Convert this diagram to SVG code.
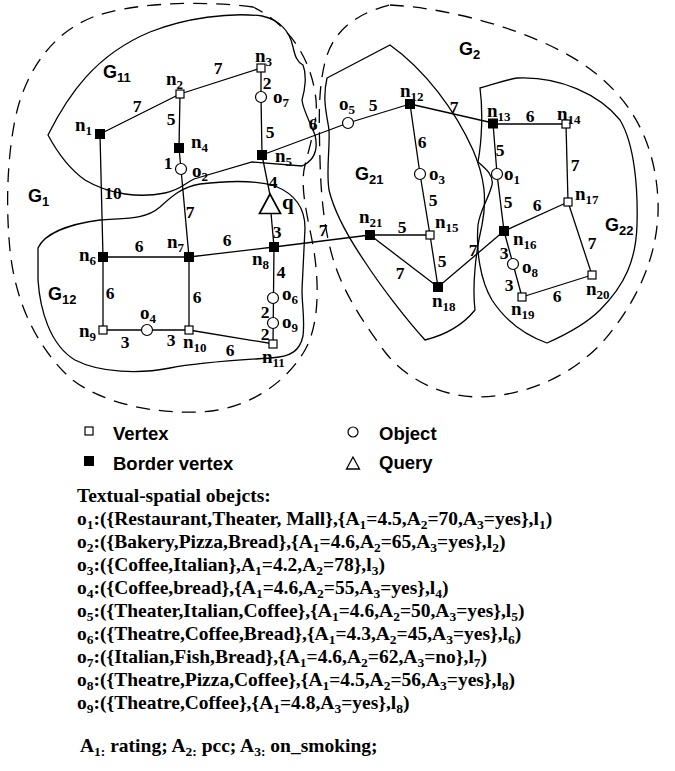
<svg xmlns="http://www.w3.org/2000/svg" width="675" height="771" viewBox="0 0 675 771">
<style>
.bg{fill:#fff}
.reg{fill:none;stroke:#000;stroke-width:1.3}
.dash{fill:none;stroke:#000;stroke-width:1.3;stroke-dasharray:14 9}
.e{stroke:#000;stroke-width:1.3;fill:none}
.v{fill:#fff;stroke:#000;stroke-width:1.2}
.b{fill:#000;stroke:#000;stroke-width:1}
.o{fill:#fff;stroke:#000;stroke-width:1.2}
.nl{font-family:"Liberation Serif",serif;font-weight:bold;font-size:19px;fill:#000}
.w{font-family:"Liberation Serif",serif;font-weight:bold;font-size:17.5px;text-anchor:middle;fill:#000}
.g{font-family:"Liberation Sans",sans-serif;font-weight:bold;font-size:18px;fill:#000}
.lg{font-family:"Liberation Sans",sans-serif;font-weight:bold;font-size:18.5px;fill:#000}
.t{font-family:"Liberation Serif",serif;font-weight:bold;font-size:19.5px;fill:#000}
.s{font-size:13px}
.ts{font-size:13.5px}
</style>
<rect class="bg" x="0" y="0" width="675" height="771"/>

<g id="regions">
  <path id="G1" class="dash" d="M253,7 C200,0 130,3 93,17 C55,32 30,65 18,107 C8,145 5,200 10,250 C15,300 35,345 70,378 C100,402 150,414 200,412 C245,410 285,385 305,350 C322,320 318,270 312,240 C306,210 300,185 305,165 C310,145 318,120 316,100 C312,60 290,25 253,7 Z"/>
  <path id="G2" class="dash" d="M390,5 C450,8 530,30 580,62 C630,95 655,140 658,200 C660,250 640,300 600,345 C570,375 530,395 480,397 C440,397 405,378 385,352 C365,325 345,295 335,265 C325,235 321,200 320,160 C319,120 318,90 325,62 C332,35 350,15 390,5 Z"/>
  <path id="G11" class="reg" d="M48,135 C68,95 95,55 150,32 C185,18 230,12 262,16 C280,20 290,32 293,47 C295,56 297,62 303,65 C307,75 305,90 302,100 C303,110 310,122 315,135 C318,148 315,160 302,166 L252,162 L194,179 C184,184 180,190 165,193 C140,198 110,195 85,180 C68,168 56,150 48,135 Z"/>
  <path id="G12" class="reg" d="M38,248 C45,233 70,224 100,220 C125,218 145,220 160,207 C172,196 182,187 200,184 C225,181 255,180 275,186 C295,194 305,208 305,228 L302,290 C302,305 305,320 303,336 C300,350 292,357 270,358 C240,360 200,362 170,368 C140,374 100,373 75,360 C50,345 40,310 38,280 Z"/>
  <path id="G21" class="reg" d="M327,78 L390,45 C425,70 455,110 473,150 C485,178 487,200 482,225 C476,250 472,285 475,310 C462,326 445,335 425,340 C405,318 380,285 365,262 C350,240 335,215 329,190 C326,170 330,150 329,130 C327,115 322,100 327,78 Z"/>
  <path id="G22" class="reg" d="M480,88 C495,84 505,80 517,78 C560,76 600,95 620,120 C635,145 638,190 637,225 C636,260 625,285 600,310 C585,325 565,335 547,343 C525,335 505,320 492,300 C480,280 476,250 478,225 C480,210 488,200 492,185 C494,175 485,168 478,162 C482,140 483,110 480,88 Z"/>
  <text class="g" x="28" y="202">G<tspan class="s" dy="4">1</tspan></text>
  <text class="g" x="103" y="78">G<tspan class="s" dy="4">11</tspan></text>
  <text class="g" x="48" y="300">G<tspan class="s" dy="4">12</tspan></text>
  <text class="g" x="459" y="55">G<tspan class="s" dy="4">2</tspan></text>
  <text class="g" x="355" y="180">G<tspan class="s" dy="4">21</tspan></text>
  <text class="g" x="605" y="231">G<tspan class="s" dy="4">22</tspan></text>
</g>

<g id="connectors">
  <line class="e" x1="100" y1="134" x2="180" y2="94"/>
  <line class="e" x1="180" y1="94" x2="261" y2="68"/>
  <line class="e" x1="180" y1="94" x2="179" y2="148"/>
  <line class="e" x1="179" y1="148" x2="181" y2="169"/>
  <line class="e" x1="181" y1="169" x2="189" y2="257"/>
  <line class="e" x1="261" y1="68" x2="261" y2="97"/>
  <line class="e" x1="261" y1="97" x2="262" y2="155"/>
  <line class="e" x1="262" y1="155" x2="348" y2="123"/>
  <line class="e" x1="348" y1="123" x2="410" y2="104"/>
  <line class="e" x1="410" y1="104" x2="493" y2="123"/>
  <line class="e" x1="493" y1="124" x2="566" y2="124"/>
  <line class="e" x1="410" y1="104" x2="420" y2="174"/>
  <line class="e" x1="420" y1="174" x2="430" y2="235"/>
  <line class="e" x1="493" y1="123" x2="497" y2="174"/>
  <line class="e" x1="497" y1="174" x2="504" y2="231"/>
  <line class="e" x1="566" y1="124" x2="568" y2="202"/>
  <line class="e" x1="504" y1="231" x2="568" y2="202"/>
  <line class="e" x1="568" y1="202" x2="592" y2="275"/>
  <line class="e" x1="504" y1="231" x2="513" y2="264"/>
  <line class="e" x1="513" y1="264" x2="522" y2="297"/>
  <line class="e" x1="522" y1="297" x2="592" y2="275"/>
  <line class="e" x1="370" y1="235" x2="430" y2="235"/>
  <line class="e" x1="370" y1="235" x2="438" y2="287"/>
  <line class="e" x1="430" y1="235" x2="438" y2="287"/>
  <line class="e" x1="438" y1="287" x2="504" y2="231"/>
  <line class="e" x1="274" y1="247" x2="370" y2="235"/>
  <line class="e" x1="262" y1="155" x2="270" y2="195"/>
  <line class="e" x1="271" y1="213" x2="274" y2="247"/>
  <line class="e" x1="189" y1="257" x2="274" y2="247"/>
  <line class="e" x1="103" y1="257" x2="189" y2="257"/>
  <line class="e" x1="100" y1="134" x2="103" y2="257"/>
  <line class="e" x1="103" y1="257" x2="103" y2="330"/>
  <line class="e" x1="189" y1="257" x2="189" y2="330"/>
  <line class="e" x1="103" y1="330" x2="189" y2="330"/>
  <line class="e" x1="189" y1="330" x2="274" y2="344"/>
  <line class="e" x1="274" y1="247" x2="273" y2="344"/>
  <g class="w">
    <text x="137" y="112">7</text>
    <text x="218" y="74">7</text>
    <text x="171" y="125">5</text>
    <text x="168" y="169">1</text>
    <text x="267" y="89">2</text>
    <text x="270" y="138">5</text>
    <text x="313" y="130">6</text>
    <text x="273" y="188">4</text>
    <text x="113" y="199">10</text>
    <text x="190" y="218">7</text>
    <text x="139" y="252">6</text>
    <text x="227" y="246">6</text>
    <text x="277" y="238">3</text>
    <text x="323" y="236">7</text>
    <text x="110" y="299">6</text>
    <text x="197" y="303">6</text>
    <text x="125" y="348">3</text>
    <text x="171" y="346">3</text>
    <text x="230" y="356">6</text>
    <text x="281" y="278">4</text>
    <text x="265" y="318">2</text>
    <text x="265" y="340">2</text>
    <text x="373" y="111">5</text>
    <text x="454" y="113">7</text>
    <text x="422" y="148">6</text>
    <text x="530" y="122">6</text>
    <text x="500" y="156">5</text>
    <text x="575" y="171">7</text>
    <text x="433" y="206">5</text>
    <text x="508" y="208">5</text>
    <text x="537" y="211">6</text>
    <text x="402" y="233">5</text>
    <text x="400" y="279">7</text>
    <text x="442" y="267">5</text>
    <text x="473" y="256">7</text>
    <text x="504" y="259">3</text>
    <text x="509" y="291">3</text>
    <text x="557" y="302">6</text>
    <text x="592" y="249">7</text>
  </g>
</g>

<g id="n1"><rect class="b" x="95.5" y="129.5" width="9" height="9"/><text class="nl" x="75" y="131">n<tspan class="s" dy="4">1</tspan></text></g>
<g id="n2"><rect class="v" x="176" y="90" width="8" height="8"/><text class="nl" x="166" y="85">n<tspan class="s" dy="4">2</tspan></text></g>
<g id="n3"><rect class="v" x="257" y="64" width="8" height="8"/><text class="nl" x="255" y="62">n<tspan class="s" dy="4">3</tspan></text></g>
<g id="n4"><rect class="b" x="174.5" y="143.5" width="9" height="9"/><text class="nl" x="191" y="148">n<tspan class="s" dy="4">4</tspan></text></g>
<g id="n5"><rect class="b" x="257.5" y="150.5" width="9" height="9"/><text class="nl" x="275" y="162">n<tspan class="s" dy="4">5</tspan></text></g>
<g id="n6"><rect class="b" x="98.5" y="252.5" width="9" height="9"/><text class="nl" x="79" y="261">n<tspan class="s" dy="4">6</tspan></text></g>
<g id="n7"><rect class="b" x="184.5" y="252.5" width="9" height="9"/><text class="nl" x="167" y="248">n<tspan class="s" dy="4">7</tspan></text></g>
<g id="n8"><rect class="b" x="269.5" y="242.5" width="9" height="9"/><text class="nl" x="252" y="265">n<tspan class="s" dy="4">8</tspan></text></g>
<g id="n9"><rect class="v" x="99" y="326" width="8" height="8"/><text class="nl" x="79" y="337">n<tspan class="s" dy="4">9</tspan></text></g>
<g id="n10"><rect class="v" x="185" y="326" width="8" height="8"/><text class="nl" x="183" y="348">n<tspan class="s" dy="4">10</tspan></text></g>
<g id="n11"><rect class="v" x="269" y="340" width="8" height="8"/><text class="nl" x="262" y="363">n<tspan class="s" dy="4">11</tspan></text></g>
<g id="n12"><rect class="b" x="405.5" y="99.5" width="9" height="9"/><text class="nl" x="400" y="97">n<tspan class="s" dy="4">12</tspan></text></g>
<g id="n13"><rect class="b" x="488.5" y="119" width="9" height="9"/><text class="nl" x="487" y="117">n<tspan class="s" dy="4">13</tspan></text></g>
<g id="n14"><rect class="v" x="562" y="120" width="8" height="8"/><text class="nl" x="557" y="120">n<tspan class="s" dy="4">14</tspan></text></g>
<g id="n15"><rect class="v" x="426" y="231" width="8" height="8"/><text class="nl" x="435" y="228">n<tspan class="s" dy="4">15</tspan></text></g>
<g id="n16"><rect class="b" x="499.5" y="226.5" width="9" height="9"/><text class="nl" x="513" y="245">n<tspan class="s" dy="4">16</tspan></text></g>
<g id="n17"><rect class="v" x="564" y="198" width="8" height="8"/><text class="nl" x="575" y="200">n<tspan class="s" dy="4">17</tspan></text></g>
<g id="n18"><rect class="b" x="433.5" y="282.5" width="9" height="9"/><text class="nl" x="432" y="307">n<tspan class="s" dy="4">18</tspan></text></g>
<g id="n19"><rect class="v" x="518" y="293" width="8" height="8"/><text class="nl" x="511" y="315">n<tspan class="s" dy="4">19</tspan></text></g>
<g id="n20"><rect class="v" x="588" y="271" width="8" height="8"/><text class="nl" x="586" y="295">n<tspan class="s" dy="4">20</tspan></text></g>
<g id="n21"><rect class="b" x="365.5" y="230.5" width="9" height="9"/><text class="nl" x="359" y="223">n<tspan class="s" dy="4">21</tspan></text></g>

<g id="o1"><circle class="o" cx="497" cy="174" r="5.5"/><text class="nl" x="504" y="180">o<tspan class="s" dy="4">1</tspan></text></g>
<g id="o2"><circle class="o" cx="181" cy="169" r="5.5"/><text class="nl" x="192" y="177">o<tspan class="s" dy="4">2</tspan></text></g>
<g id="o3"><circle class="o" cx="420" cy="174" r="5.5"/><text class="nl" x="429" y="180">o<tspan class="s" dy="4">3</tspan></text></g>
<g id="o4"><circle class="o" cx="147" cy="330" r="5.5"/><text class="nl" x="140" y="319">o<tspan class="s" dy="4">4</tspan></text></g>
<g id="o5"><circle class="o" cx="348" cy="123" r="5.5"/><text class="nl" x="339" y="110">o<tspan class="s" dy="4">5</tspan></text></g>
<g id="o6"><circle class="o" cx="273" cy="298" r="5.5"/><text class="nl" x="282" y="300">o<tspan class="s" dy="4">6</tspan></text></g>
<g id="o7"><circle class="o" cx="261" cy="97" r="5.5"/><text class="nl" x="273" y="103">o<tspan class="s" dy="4">7</tspan></text></g>
<g id="o8"><circle class="o" cx="513" cy="264" r="5.5"/><text class="nl" x="522" y="273">o<tspan class="s" dy="4">8</tspan></text></g>
<g id="o9"><circle class="o" cx="273" cy="323" r="5.5"/><text class="nl" x="282" y="328">o<tspan class="s" dy="4">9</tspan></text></g>

<g id="q"><polygon points="270,194 259.5,213.5 280.5,213.5" fill="#fff" stroke="#000" stroke-width="1.7"/><text class="nl" x="282" y="209" style="font-size:21px">q</text></g>

<g id="legend">
  <rect class="v" x="85" y="427" width="8" height="8"/>
  <text class="lg" x="113" y="440">Vertex</text>
  <rect class="b" x="84.5" y="456.5" width="9" height="9"/>
  <text class="lg" x="113" y="470">Border vertex</text>
  <circle class="o" cx="353" cy="432" r="5"/>
  <text class="lg" x="379" y="440">Object</text>
  <polygon points="353,457 346.5,469 359.5,469" fill="#fff" stroke="#000" stroke-width="1.3"/>
  <text class="lg" x="379" y="469">Query</text>
</g>

<g id="objects-text">
  <text class="t" x="77" y="502">Textual-spatial obejcts:</text>
  <text class="t" x="77" y="525">o<tspan class="ts" dy="4">1</tspan><tspan dy="-4">:({Restaurant,Theater, Mall},{A</tspan><tspan class="ts" dy="4">1</tspan><tspan dy="-4">=4.5,A</tspan><tspan class="ts" dy="4">2</tspan><tspan dy="-4">=70,A</tspan><tspan class="ts" dy="4">3</tspan><tspan dy="-4">=yes},l</tspan><tspan class="ts" dy="4">1</tspan><tspan dy="-4">)</tspan></text>
  <text class="t" x="77" y="548">o<tspan class="ts" dy="4">2</tspan><tspan dy="-4">:({Bakery,Pizza,Bread},{A</tspan><tspan class="ts" dy="4">1</tspan><tspan dy="-4">=4.6,A</tspan><tspan class="ts" dy="4">2</tspan><tspan dy="-4">=65,A</tspan><tspan class="ts" dy="4">3</tspan><tspan dy="-4">=yes},l</tspan><tspan class="ts" dy="4">2</tspan><tspan dy="-4">)</tspan></text>
  <text class="t" x="77" y="571">o<tspan class="ts" dy="4">3</tspan><tspan dy="-4">:({Coffee,Italian},A</tspan><tspan class="ts" dy="4">1</tspan><tspan dy="-4">=4.2,A</tspan><tspan class="ts" dy="4">2</tspan><tspan dy="-4">=78},l</tspan><tspan class="ts" dy="4">3</tspan><tspan dy="-4">)</tspan></text>
  <text class="t" x="77" y="594">o<tspan class="ts" dy="4">4</tspan><tspan dy="-4">:({Coffee,bread},{A</tspan><tspan class="ts" dy="4">1</tspan><tspan dy="-4">=4.6,A</tspan><tspan class="ts" dy="4">2</tspan><tspan dy="-4">=55,A</tspan><tspan class="ts" dy="4">3</tspan><tspan dy="-4">=yes},l</tspan><tspan class="ts" dy="4">4</tspan><tspan dy="-4">)</tspan></text>
  <text class="t" x="77" y="617">o<tspan class="ts" dy="4">5</tspan><tspan dy="-4">:({Theater,Italian,Coffee},{A</tspan><tspan class="ts" dy="4">1</tspan><tspan dy="-4">=4.6,A</tspan><tspan class="ts" dy="4">2</tspan><tspan dy="-4">=50,A</tspan><tspan class="ts" dy="4">3</tspan><tspan dy="-4">=yes},l</tspan><tspan class="ts" dy="4">5</tspan><tspan dy="-4">)</tspan></text>
  <text class="t" x="77" y="640">o<tspan class="ts" dy="4">6</tspan><tspan dy="-4">:({Theatre,Coffee,Bread},{A</tspan><tspan class="ts" dy="4">1</tspan><tspan dy="-4">=4.3,A</tspan><tspan class="ts" dy="4">2</tspan><tspan dy="-4">=45,A</tspan><tspan class="ts" dy="4">3</tspan><tspan dy="-4">=yes},l</tspan><tspan class="ts" dy="4">6</tspan><tspan dy="-4">)</tspan></text>
  <text class="t" x="77" y="663">o<tspan class="ts" dy="4">7</tspan><tspan dy="-4">:({Italian,Fish,Bread},{A</tspan><tspan class="ts" dy="4">1</tspan><tspan dy="-4">=4.6,A</tspan><tspan class="ts" dy="4">2</tspan><tspan dy="-4">=62,A</tspan><tspan class="ts" dy="4">3</tspan><tspan dy="-4">=no},l</tspan><tspan class="ts" dy="4">7</tspan><tspan dy="-4">)</tspan></text>
  <text class="t" x="77" y="686">o<tspan class="ts" dy="4">8</tspan><tspan dy="-4">:({Theatre,Pizza,Coffee},{A</tspan><tspan class="ts" dy="4">1</tspan><tspan dy="-4">=4.5,A</tspan><tspan class="ts" dy="4">2</tspan><tspan dy="-4">=56,A</tspan><tspan class="ts" dy="4">3</tspan><tspan dy="-4">=yes},l</tspan><tspan class="ts" dy="4">8</tspan><tspan dy="-4">)</tspan></text>
  <text class="t" x="77" y="709">o<tspan class="ts" dy="4">9</tspan><tspan dy="-4">:({Theatre,Coffee},{A</tspan><tspan class="ts" dy="4">1</tspan><tspan dy="-4">=4.8,A</tspan><tspan class="ts" dy="4">3</tspan><tspan dy="-4">=yes},l</tspan><tspan class="ts" dy="4">8</tspan><tspan dy="-4">)</tspan></text>
  <text class="t" x="80" y="752">A<tspan class="ts" dy="4">1:</tspan><tspan dy="-4"> rating; A</tspan><tspan class="ts" dy="4">2:</tspan><tspan dy="-4"> pcc; A</tspan><tspan class="ts" dy="4">3:</tspan><tspan dy="-4"> on_smoking;</tspan></text>
</g>
</svg>
